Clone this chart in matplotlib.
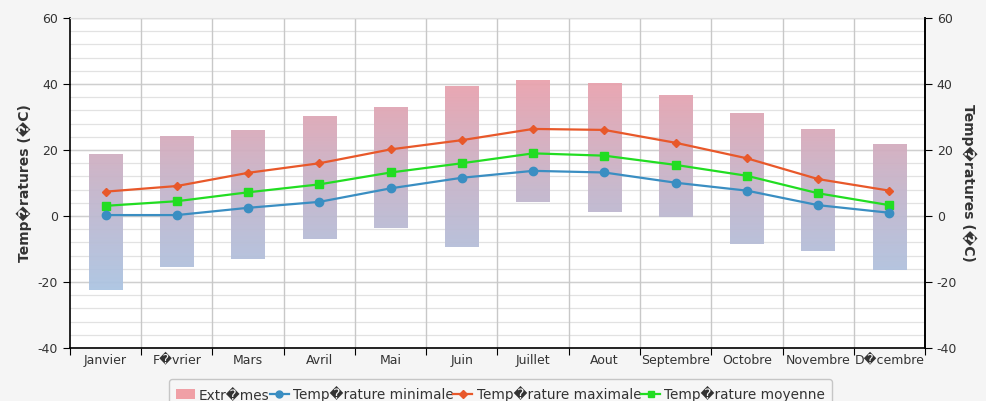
import numpy as np
import matplotlib
matplotlib.use("Agg")
import matplotlib.pyplot as plt
from matplotlib.colors import LinearSegmentedColormap, Normalize
from matplotlib.lines import Line2D
from matplotlib.patches import Patch

# data
months = ["Janvier", "F\ufffdvrier", "Mars", "Avril", "Mai", "Juin", "Juillet",
          "Aout", "Septembre", "Octobre", "Novembre", "D\ufffdcembre"]
extreme_high = [18.8, 24.0, 26.0, 30.3, 32.7, 39.2, 41.0, 40.2, 36.4, 30.8, 26.4, 21.8]
extreme_low = [-22.4, -15.4, -13.0, -6.9, -3.7, -9.5, 4.3, 1.3, -0.3, -8.6, -10.5, -16.2]
temp_min = [0.3, 0.3, 2.5, 4.3, 8.4, 11.6, 13.7, 13.2, 10.1, 7.7, 3.3, 1.0]
temp_max = [7.4, 9.1, 13.1, 16.0, 20.2, 23.0, 26.4, 26.1, 22.2, 17.5, 11.2, 7.7]
temp_mean = [3.1, 4.5, 7.2, 9.6, 13.2, 16.0, 19.0, 18.3, 15.5, 12.2, 6.9, 3.3]

ylabel = "Temp\ufffdratures (\ufffdC)"
legend_labels = ["Extr\ufffdmes", "Temp\ufffdrature minimale",
                 "Temp\ufffdrature maximale", "Temp\ufffdrature moyenne"]

plt.rcParams["font.family"] = "DejaVu Sans"
plt.rcParams["axes.unicode_minus"] = False
text_col = "#333333"

fig = plt.figure(figsize=(9.87, 4.01), dpi=100, facecolor="#f5f5f5")
ax = fig.add_axes([0.0709, 0.132, 0.8663, 0.823])
ax.set_facecolor("white")

x = np.arange(len(months))
ymin, ymax = -40, 60

# gradient bars for extremes, coloured by temperature
cmap = LinearSegmentedColormap.from_list("ext", ["#a6c8e8", "#c4b6cc", "#eea0aa"])
norm = Normalize(-30, 45)
w = 0.47
for xi, lo, hi in zip(x, extreme_low, extreme_high):
    yy = np.linspace(hi, lo, 200).reshape(-1, 1)
    ax.imshow(yy, cmap=cmap, norm=norm, aspect="auto",
              extent=(xi - w / 2, xi + w / 2, lo, hi), zorder=2, alpha=0.95)

# grid
for v in np.arange(ymin, ymax + 1, 4):
    ax.axhline(v, color="#e2e2e2", lw=0.9, zorder=1)
for v in np.arange(ymin, ymax + 1, 20):
    ax.axhline(v, color="#cfcfcf", lw=1.0, zorder=1)
for b in np.arange(0.5, len(months) - 1, 1):
    ax.axvline(b, color="#c8c8c8", lw=1.0, zorder=1)

ax.plot(x, temp_max, color="#e8582a", lw=1.6, marker="D", ms=4.5, zorder=4)
ax.plot(x, temp_mean, color="#22dd22", lw=1.6, marker="s", ms=6, zorder=4)
ax.plot(x, temp_min, color="#3a8ec2", lw=1.6, marker="o", ms=6, zorder=4)

ax.set_xlim(-0.5, len(months) - 0.5)
ax.set_ylim(ymin, ymax)
ax.set_yticks(np.arange(ymin, ymax + 1, 20))
ax.set_xticks(np.arange(-0.5, len(months), 1))
ax.set_xticklabels([])
ax.set_xticks(x, minor=True)
ax.set_xticklabels(months, minor=True)
ax.tick_params(axis="x", which="major", length=5, direction="out", color="black")
ax.tick_params(axis="x", which="minor", length=0, pad=4, labelsize=9, labelcolor=text_col)
ax.tick_params(axis="y", length=5, direction="out", labelsize=9, labelcolor=text_col)
for s in ["left", "bottom", "right"]:
    ax.spines[s].set_color("black")
    ax.spines[s].set_linewidth(1.2)
ax.spines["top"].set_color("#dddddd")
ax.set_ylabel(ylabel, fontsize=10, fontweight="bold", color=text_col, labelpad=4)

ax2 = ax.twinx()
ax2.set_ylim(ymin, ymax)
ax2.set_yticks(np.arange(ymin, ymax + 1, 20))
ax2.tick_params(axis="y", length=5, direction="out", labelsize=9, labelcolor=text_col)
ax2.spines["right"].set_color("black")
ax2.spines["right"].set_linewidth(1.2)
ax2.spines["top"].set_visible(False)
ax2.spines["left"].set_visible(False)
ax2.spines["bottom"].set_visible(False)
ax2.set_ylabel(ylabel, fontsize=10, fontweight="bold", color=text_col,
               rotation=270, labelpad=14)

handles = [
    Patch(facecolor="#f0a0a6", edgecolor="none"),
    Line2D([], [], color="#3a8ec2", lw=1.6, marker="o", ms=5),
    Line2D([], [], color="#e8582a", lw=1.6, marker="D", ms=4),
    Line2D([], [], color="#22dd22", lw=1.6, marker="s", ms=5),
]
leg = fig.legend(handles, legend_labels, loc="upper center", ncol=4,
                 bbox_to_anchor=(0.507, 0.072), fontsize=9.8, frameon=True,
                 handlelength=1.4, handletextpad=0.3, columnspacing=0.0,
                 borderpad=0.5, fancybox=True, edgecolor="#bbbbbb",
                 facecolor="#f7f7f7", labelcolor=text_col)
leg.get_frame().set_linewidth(1.0)

fig.savefig("out.png", dpi=100, facecolor=fig.get_facecolor())
